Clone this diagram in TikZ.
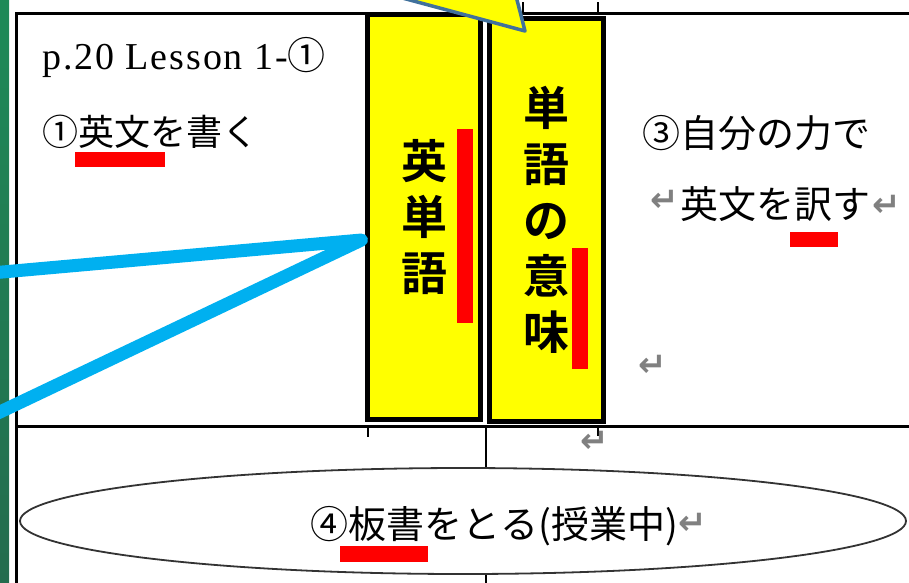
\documentclass[tikz,border=0pt]{standalone}
\usepackage{fontspec}
\setmainfont{Liberation Serif}
\newfontfamily\jpfont[BoldFont={Noto Sans CJK JP Bold}]{Noto Sans CJK JP}
\newfontfamily\markfont{DejaVu Sans}
\usetikzlibrary{positioning, calc, shapes.geometric}
\definecolor{boxyellow}{RGB}{255,255,0}
\definecolor{markred}{RGB}{255,0,0}
\definecolor{linkblue}{RGB}{0,176,240}
\definecolor{calloutblue}{RGB}{65,113,156}
\definecolor{sidegreen}{RGB}{30,138,88}
\definecolor{sidegreendark}{RGB}{36,108,78}
\tikzset{ % styles for the worksheet picture
  word box/.style={draw=black,fill=boxyellow,line width=5pt,inner sep=0,
    align=center,font=\jpfont\bfseries\fontsize{46}{56}\selectfont},
  jp text/.style={inner sep=0,anchor=west,font=\jpfont\fontsize{#1}{#1}\selectfont},
  return mark/.style={inner sep=0,text=gray,font=\markfont\bfseries\fontsize{34}{34}\selectfont},
  red bar/.style={fill=markred,draw=none},
  link/.style={linkblue,line width=13pt,line cap=round,line join=round},
  grid line/.style={black,line width=3pt},
  tick line/.style={black,line width=2pt}
}

\begin{document}
\begin{tikzpicture}[x=1pt,y=-1pt]
\useasboundingbox (0,0) rectangle (909,582);

% green strip on the left
\shade[top color=sidegreen,bottom color=sidegreendark] (0,0) rectangle (9,582);

% table lines
\draw[grid line] (15,13.5) -- (912,13.5);
\draw[grid line] (16.5,12) -- (16.5,585);
\draw[grid line] (18,426.5) -- (912,426.5);
\foreach\x/\ya/\yb in {368/428/437,598/428/436,523/2/12,598/2/12,485.5/575/585}
  \draw[tick line] (\x,\ya) -- (\x,\yb);

% ellipse of the lower cell
\node[ellipse,draw=black!80,line width=1.8pt,inner sep=0,
      minimum width=886pt,minimum height=106pt] (note) at (463,521) {};
\coordinate (celltop) at (485.5,427.5);
\draw[tick line] (celltop) -- (celltop |- note.north);

% return marks
\foreach\x/\y [count=\i] in {887/206,665/201,653/366,595/442,693/524}
  \node[return mark] (ret\i) at (\x,\y) {↵};

% texts
\node[anchor=base west,inner sep=0,
      font=\fontsize{38}{38}\selectfont\addfontfeature{LetterSpace=5}]
      (title) at (42,69) {p.20 Lesson 1-{\jpfont ①}};
\node[jp text=36] (write)     at (42,132)  {①英文を書く};
\node[jp text=38] (self)      at (642,133) {③自分の力で};
\node[jp text=38] (translate) at (680,204) {英文を訳す};
\node[jp text=38] (board)     at (310,526) {④板書をとる(授業中)};

% yellow word boxes
\node[word box,minimum width=113pt,minimum height=405pt] (wordbox) at (424,217)   {英\\単\\語};
\node[word box,minimum width=114pt,minimum height=403pt] (meanbox) at (546.5,220) {単\\語\\の\\意\\味};

% red marks
\fill[red bar] (457,129) rectangle (473,323);
\fill[red bar] (572,248) rectangle (588,369);
\fill[red bar] (75,152)  rectangle (165,167);
\fill[red bar] (790,232) rectangle (838,247);
\fill[red bar] (340,546) rectangle (428,562);

% blue connectors
\coordinate (hub)        at (361.5,240);
\coordinate (upper end)  at (-20,274);
\coordinate (lower end)  at (-20,421.5);
\draw[link] (upper end) -- (hub) -- (lower end);

% callout tip from above
\filldraw[fill=boxyellow,draw=calloutblue,line width=3.5pt,line join=round]
  (395,-4) -- (525,31) -- (516,-4) -- cycle;
\end{tikzpicture}
\end{document}
